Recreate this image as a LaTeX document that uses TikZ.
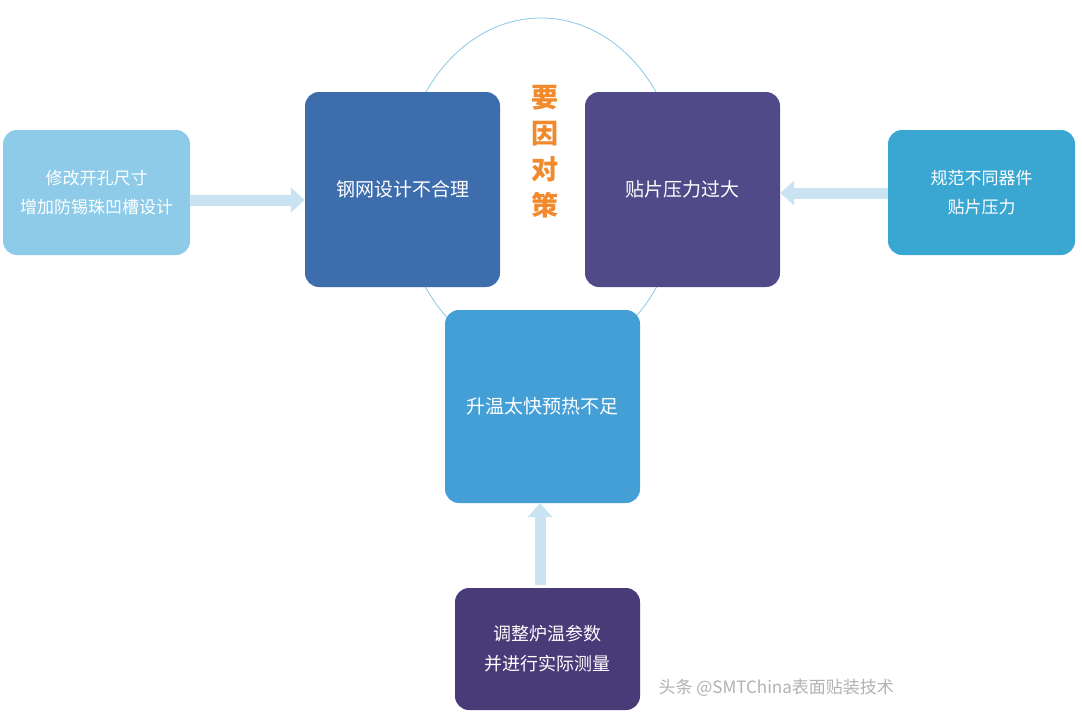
\documentclass[tikz,border=0pt]{standalone}
\usepackage{fontspec}
\setmainfont{Noto Sans CJK SC}
\usetikzlibrary{arrows.meta}
\definecolor{cL}{HTML}{8DCBE8}
\definecolor{cA}{HTML}{3E6DAD}
\definecolor{cB}{HTML}{514A88}
\definecolor{cR}{HTML}{3AA7D2}
\definecolor{cC}{HTML}{449FD6}
\definecolor{cD}{HTML}{493A78}
\definecolor{arr}{HTML}{C9E3F2}
\definecolor{orng}{HTML}{F08A2C}
\tikzset{
 box/.style={rounded corners=14pt,text=white,align=center,font=\fontsize{19}{30}\selectfont,inner sep=0pt},
 fat/.style={draw=arr,line width=11pt,-{Triangle[width=24pt,length=14pt]}}
}
\begin{document}
\begin{tikzpicture}[x=1pt,y=-1pt]
\useasboundingbox (0,0) rectangle (1082,718);
\fill[white] (0,0) rectangle (1082,718);
\draw[cR!60,line width=0.8pt] (541,190) ellipse [x radius=140,y radius=172];
\node[box,fill=cL,minimum width=187pt,minimum height=125pt,font=\fontsize{17}{29}\selectfont] (l) at (96.5,192.5) {修改开孔尺寸\\增加防锡珠凹槽设计};
\node[box,fill=cA,minimum width=195pt,minimum height=195pt] (a) at (402.5,189.5) {钢网设计不合理};
\node[box,fill=cB,minimum width=195pt,minimum height=195pt] (b) at (682.5,189.5) {贴片压力过大};
\node[box,fill=cR,minimum width=187pt,minimum height=125pt,font=\fontsize{17}{29}\selectfont] (r) at (981.5,192.5) {规范不同器件\\贴片压力};
\node[box,fill=cC,minimum width=195pt,minimum height=193pt] (c) at (542.5,406.5) {升温太快预热不足};
\node[box,fill=cD,minimum width=185pt,minimum height=122pt,font=\fontsize{18}{30}\selectfont] (d) at (547.5,649) {调整炉温参数\\并进行实际测量};
\node[text=orng,align=center,font=\fontsize{27}{36}\selectfont\bfseries] (t) at (545,152) {要\\因\\对\\策};
\draw[fat] (l.east |- 0,200) -- (a.west |- 0,200);
\draw[fat] (r.west |- 0,193) -- (b.east |- 0,193);
\draw[fat] (c.south -| 540,0) ++(0,82) -- (c.south -| 540,0);
\node[text=gray!60,font=\fontsize{17}{20}\selectfont,anchor=west] (w) at (655,688) {头条 @SMTChina表面贴装技术};
\end{tikzpicture}
\end{document}
